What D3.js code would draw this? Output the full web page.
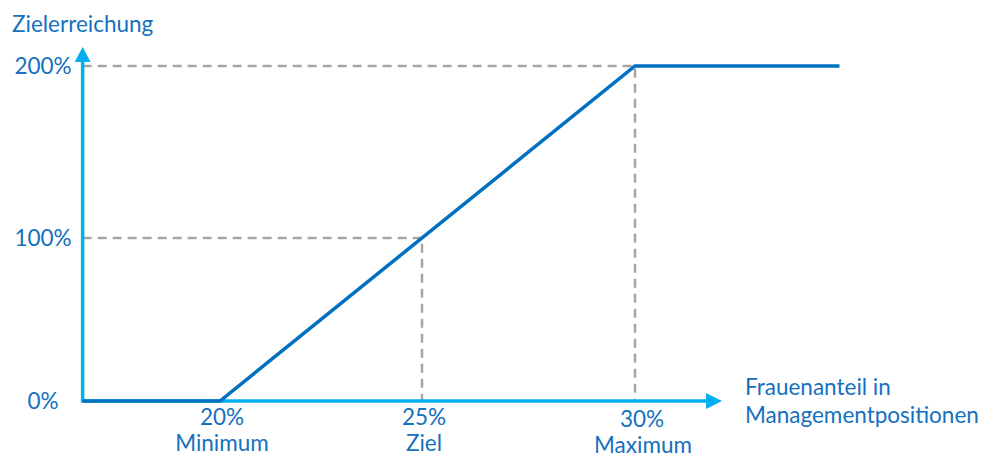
<!DOCTYPE html>
<html lang="de">
<head>
<meta charset="utf-8">
<title>Zielerreichung Frauenanteil</title>
<style>
  body { margin: 0; background: #fff; }
  text { font-family: Lato, "Open Sans", sans-serif; fill: #1570c0; font-size: 22.5px; }
</style>
</head>
<body>
<svg width="982" height="457"></svg>
<script src="https://cdn.jsdelivr.net/npm/d3@7"></script>
<script>
// data
var xTicks = [20, 25, 30];
var xTickNames = ["Minimum", "Ziel", "Maximum"];
var yTicks = [0, 100, 200];
var lineX = [16.6, 20, 30, 34.8];
var lineY = [0, 0, 200, 200];
var yTitle = "Zielerreichung";
var xTitle = ["Frauenanteil in", "Managementpositionen"];

var svg = d3.select("svg");

// the picture isn't evenly spaced, so piecewise scales
var x = d3.scaleLinear().domain([20, 25, 30]).range([220, 422, 635]);
var y = d3.scaleLinear().domain([0, 100, 200]).range([401, 238, 66]);

var axisBlue = "#00b0f0",
    lineBlue = "#0070c0",
    grey = "#a6a6a6";

var x0 = x(lineX[0]), y0 = y(0);
var xEnd = 722, yEnd = 47;

// dashed guides (only for ticks above 0)
yTicks.slice(1).forEach(function(v, i) {
  var xv = xTicks[i + 1];
  svg.append("path")
    .attr("d", "M" + x0 + "," + y(v) + "H" + x(xv) + "V" + y0)
    .attr("fill", "none")
    .attr("stroke", grey)
    .attr("stroke-width", 2.5)
    .attr("stroke-dasharray", "9,6");
});

// axes with arrow heads
svg.append("line")
  .attr("x1", x0).attr("y1", y0).attr("x2", x0).attr("y2", yEnd + 12)
  .attr("stroke", axisBlue).attr("stroke-width", 3.5);
svg.append("path")
  .attr("d", "M" + (x0 - 8) + "," + (yEnd + 15) + "L" + x0 + "," + yEnd + "L" + (x0 + 8) + "," + (yEnd + 15) + "Z")
  .attr("fill", axisBlue);

svg.append("line")
  .attr("x1", x0 - 1.75).attr("y1", y0).attr("x2", xEnd - 12).attr("y2", y0)
  .attr("stroke", axisBlue).attr("stroke-width", 3.5);
svg.append("path")
  .attr("d", "M" + (xEnd - 16) + "," + (y0 - 8) + "L" + xEnd + "," + y0 + "L" + (xEnd - 16) + "," + (y0 + 8) + "Z")
  .attr("fill", axisBlue);

// the curve
var pts = lineX.map(function(d, i) { return [d, lineY[i]]; });
svg.append("path")
  .datum(pts)
  .attr("d", d3.line().x(function(d) { return x(d[0]); }).y(function(d) { return y(d[1]); }))
  .attr("fill", "none")
  .attr("stroke", lineBlue)
  .attr("stroke-width", 3.5);

// y labels
svg.selectAll(".ylab")
  .data(yTicks)
  .enter().append("text")
    .attr("class", "ylab")
    .attr("x", 43)
    .attr("y", function(d) { return y(d) + 8; })
    .attr("text-anchor", "middle")
    .text(function(d) { return d + "%"; });

// x labels
var xl = svg.selectAll(".xlab")
  .data(xTicks)
  .enter().append("text")
    .attr("class", "xlab")
    .attr("text-anchor", "middle");
xl.append("tspan")
  .attr("x", function(d, i) { return x(d) + (i == 2 ? 7 : 2); })
  .attr("y", function(d, i) { return 425 + (i == 2 ? 2 : 0); })
  .text(function(d) { return d + "%"; });
xl.append("tspan")
  .attr("x", function(d, i) { return x(d) + (i == 2 ? 8 : 2); })
  .attr("y", function(d, i) { return 451 + (i == 2 ? 2 : 0); })
  .text(function(d, i) { return xTickNames[i]; });

// titles
svg.append("text")
  .attr("x", 12).attr("y", 32)
  .text(yTitle);

svg.append("text")
  .selectAll("tspan")
  .data(xTitle)
  .enter().append("tspan")
    .attr("x", 745)
    .attr("y", function(d, i) { return 395 + i * 28; })
    .text(function(d) { return d; });
</script>
</body>
</html>
